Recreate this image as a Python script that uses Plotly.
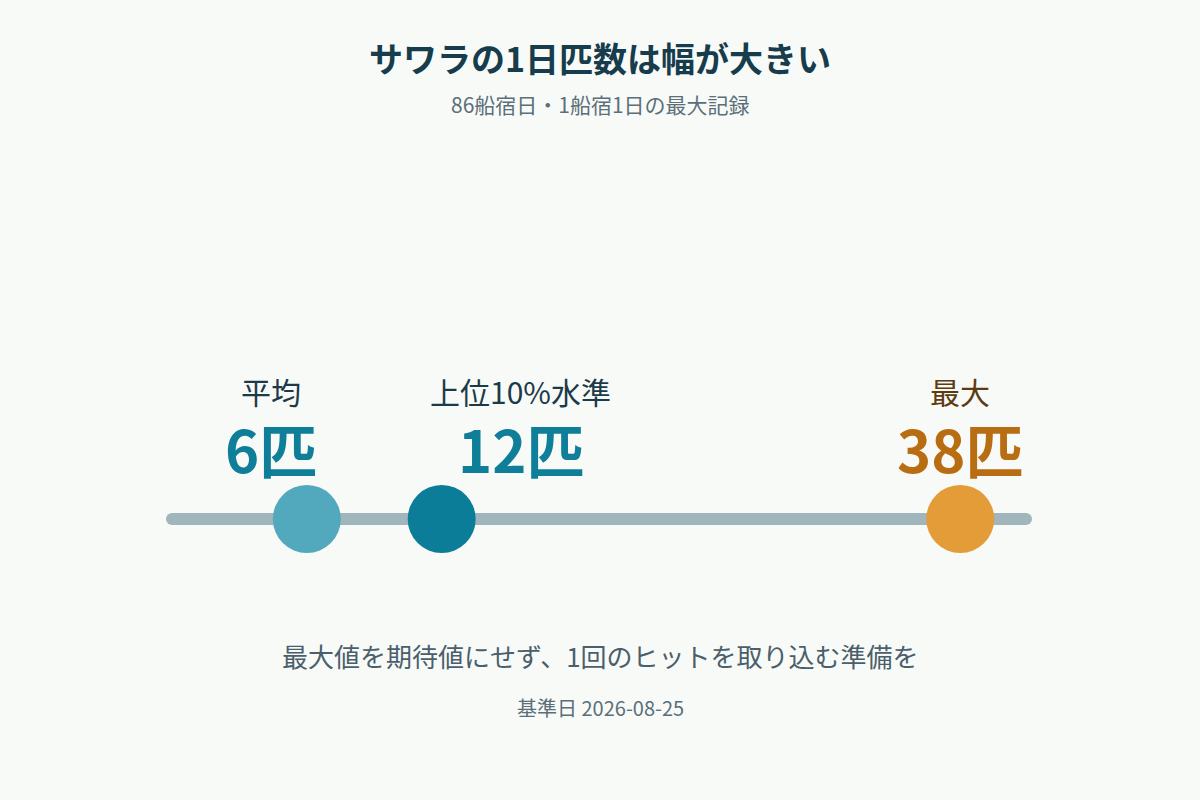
import plotly.graph_objects as go

# ---- data ----
labels = ["平均", "上位10%水準", "最大"]
values = [6, 12, 38]
unit = "匹"
title = "サワラの1日匹数は幅が大きい"
subtitle = "86船宿日・1船宿1日の最大記録"
note = "最大値を期待値にせず、1回のヒットを取り込む準備を"
footer = "基準日 2026-08-25"

# ---- styling ----
FONT = "Noto Sans CJK JP"
BG = "#f8faf8"
dot_colors = ["#52a9bd", "#0b7d99", "#e49c38"]
value_colors = ["#0f7f99", "#0f7f99", "#b96d12"]
label_colors = ["#1c3a48", "#1c3a48", "#5c3c10"]
label_shift = [-36, 79, 0]

W, H = 1200, 800
px0, px1 = 172, 1026
max_val = max(values)
scale = (px1 - px0) / max_val
x_range = [-px0 / scale, (W - px0) / scale]
line_y = 519
cap = 0.923  # keep largest marker inside the track
pos = [min(v, cap * max_val) for v in values]

fig = go.Figure()
# track
fig.add_trace(go.Scatter(
    x=[0, max_val], y=[line_y, line_y], mode="lines+markers",
    line=dict(color="#a1b5bc", width=12),
    marker=dict(size=12, color="#a1b5bc"),
    hoverinfo="skip", showlegend=False))
# dots
fig.add_trace(go.Scatter(
    x=pos, y=[line_y] * len(values), mode="markers",
    marker=dict(size=68, color=dot_colors, line=dict(width=0)),
    hoverinfo="skip", showlegend=False))

ann = []
for p, lab, v, vc, lc, sh in zip(pos, labels, values, value_colors, label_colors, label_shift):
    ann.append(dict(x=p, y=391, xref="x", yref="y", text=lab, showarrow=False,
                    xshift=sh, font=dict(family=FONT, size=30, color=lc)))
    ann.append(dict(x=p, y=448, xref="x", yref="y", text=f"<b>{v}{unit}</b>", showarrow=False,
                    xshift=sh, font=dict(family=FONT, size=58, color=vc)))

ann += [
    dict(x=0.5, y=57, xref="paper", yref="y", text=f"<b>{title}</b>", showarrow=False,
         font=dict(family=FONT, size=34, color="#173c4b")),
    dict(x=0.5, y=104, xref="paper", yref="y", text=subtitle, showarrow=False,
         font=dict(family=FONT, size=21, color="#5b6f79")),
    dict(x=0.5, y=655, xref="paper", yref="y", text=note, showarrow=False,
         font=dict(family=FONT, size=26, color="#4a5f6b")),
    dict(x=0.5, y=707, xref="paper", yref="y", text=footer, showarrow=False,
         font=dict(family=FONT, size=20, color="#5b6f79")),
]

fig.update_layout(
    width=W, height=H, margin=dict(l=0, r=0, t=0, b=0),
    paper_bgcolor=BG, plot_bgcolor=BG,
    xaxis=dict(range=x_range, visible=False, fixedrange=True),
    yaxis=dict(range=[H, 0], visible=False, fixedrange=True),
    annotations=ann, showlegend=False,
)
fig.write_html("out.html", config={"displayModeBar": False})

# remove default page margin so the figure fills the window exactly
with open("out.html", encoding="utf-8") as f:
    html = f.read()
html = html.replace("<body>", f'<body style="margin:0;background:{BG}">', 1)
with open("out.html", "w", encoding="utf-8") as f:
    f.write(html)
